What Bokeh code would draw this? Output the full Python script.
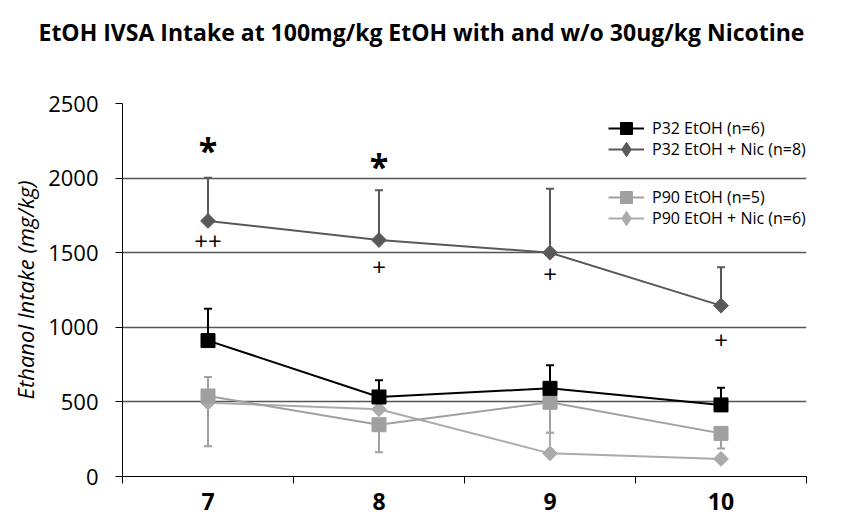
import math
from bokeh.plotting import figure
from bokeh.models import (Range1d, FixedTicker, Whisker, TeeHead, ColumnDataSource,
                          Legend, LegendItem, Title)
from bokeh.core.properties import value
from bokeh.embed import file_html
from bokeh.resources import INLINE

# ---------------- data ----------------
days = [7, 8, 9, 10]
day_labels = ["7", "8", "9", "10"]

p32_etoh = [911, 533, 591, 480]
p32_etoh_up = [213, 112, 154, 115]
p32_etoh_dn = [0, 0, 0, 0]

p32_nic = [1713, 1585, 1500, 1145]
p32_nic_up = [290, 333, 429, 257]
p32_nic_dn = [0, 0, 0, 0]

p90_etoh = [540, 347, 497, 289]
p90_etoh_up = [127, 0, 0, 0]
p90_etoh_dn = [338, 185, 204, 102]

p90_nic = [495, 451, 155, 118]
p90_nic_up = [0, 0, 138, 0]
p90_nic_dn = [0, 0, 0, 0]

y_ticks = [0, 500, 1000, 1500, 2000, 2500]

star_x = [7, 8]
star_y = [2212, 2111]
star_text = ["*", "*"]

plus_x = [7, 8, 9, 10]
plus_y = [1575, 1401, 1354, 911]
plus_text = ["++", "+", "+", "+"]

TITLE = "EtOH IVSA Intake at 100mg/kg EtOH with and w/o 30ug/kg Nicotine"
FONT = "Open Sans"

p = figure(width=841, height=521, output_backend="svg", toolbar_location=None,
           title=None,
           x_range=Range1d(6.5, 10.5), y_range=Range1d(0, 2500),
           min_border_left=122, min_border_right=35, min_border_top=103,
           min_border_bottom=45)
p.outline_line_color = None
p.background_fill_color = "white"

# spacer (closest to the frame), then the real title above it
p.add_layout(Title(text=" ", text_font_size="1px", standoff=48), "above")
p.add_layout(Title(text=TITLE, text_font=FONT, text_font_style="bold",
                   text_font_size="23px", align="left", offset=-84, standoff=10,
                   text_color="black"), "above")

# grid
p.xgrid.grid_line_color = None
p.ygrid.ticker = FixedTicker(ticks=y_ticks)
p.ygrid.grid_line_color = "#555555"
p.ygrid.grid_line_width = 1.3

# x axis
p.xaxis.ticker = FixedTicker(ticks=days, minor_ticks=[6.5, 7.5, 8.5, 9.5, 10.5])
p.xaxis.major_label_overrides = {d: l for d, l in zip(days, day_labels)}
p.xaxis.major_tick_out = 0
p.xaxis.major_tick_in = 0
p.xaxis.minor_tick_out = 7
p.xaxis.minor_tick_in = 0
p.xaxis.minor_tick_line_color = "black"
p.xaxis.axis_line_color = "black"
p.xaxis.major_label_text_font = FONT
p.xaxis.major_label_text_font_style = "bold"
p.xaxis.major_label_text_font_size = "23px"
p.xaxis.major_label_text_color = "black"
p.xaxis.major_label_standoff = 9

# y axis
p.yaxis.ticker = FixedTicker(ticks=y_ticks)
p.yaxis.major_tick_out = 7
p.yaxis.major_tick_in = 0
p.yaxis.minor_tick_out = 0
p.yaxis.minor_tick_in = 0
p.yaxis.major_tick_line_color = "black"
p.yaxis.axis_line_color = "black"
p.yaxis.major_label_text_font = FONT
p.yaxis.major_label_text_font_size = "22px"
p.yaxis.major_label_text_color = "black"
p.yaxis.major_label_standoff = 17
p.yaxis.axis_label = "Ethanol Intake (mg/kg)"
p.yaxis.axis_label_text_font = FONT
p.yaxis.axis_label_text_font_style = "italic"
p.yaxis.axis_label_text_font_size = "22px"
p.yaxis.axis_label_text_color = "black"
p.yaxis.axis_label_standoff = 5


def add_whiskers(mean, up, dn, color):
    ux = [d for d, u in zip(days, up) if u > 0]
    ub = [m for m, u in zip(mean, up) if u > 0]
    ut = [m + u for m, u in zip(mean, up) if u > 0]
    if ux:
        src = ColumnDataSource(dict(x=ux, lower=ub, upper=ut))
        w = Whisker(base="x", lower="lower", upper="upper", source=src,
                    line_color=color, line_width=2,
                    upper_head=TeeHead(size=8, line_color=color, line_width=2),
                    lower_head=None)
        p.add_layout(w)
    dx = [d for d, v in zip(days, dn) if v > 0]
    db = [m for m, v in zip(mean, dn) if v > 0]
    dt = [m - v for m, v in zip(mean, dn) if v > 0]
    if dx:
        src = ColumnDataSource(dict(x=dx, lower=dt, upper=db))
        w = Whisker(base="x", lower="lower", upper="upper", source=src,
                    line_color=color, line_width=2,
                    lower_head=TeeHead(size=8, line_color=color, line_width=2),
                    upper_head=None)
        p.add_layout(w)


C_P32 = "black"
C_P32N = "#595959"
C_P90 = "#a0a0a0"
C_P90N = "#ababab"

add_whiskers(p90_etoh, p90_etoh_up, p90_etoh_dn, C_P90)
add_whiskers(p90_nic, p90_nic_up, p90_nic_dn, C_P90N)
add_whiskers(p32_etoh, p32_etoh_up, p32_etoh_dn, C_P32)
add_whiskers(p32_nic, p32_nic_up, p32_nic_dn, C_P32N)

l90n = p.line(days, p90_nic, line_color=C_P90N, line_width=2)
s90n = p.scatter(days, p90_nic, marker="square", angle=math.pi / 4, size=10.5,
                 fill_color=C_P90N, line_color=C_P90N)
l90 = p.line(days, p90_etoh, line_color=C_P90, line_width=2)
s90 = p.scatter(days, p90_etoh, marker="square", size=14,
                fill_color=C_P90, line_color=C_P90)
l32 = p.line(days, p32_etoh, line_color=C_P32, line_width=2)
s32 = p.scatter(days, p32_etoh, marker="square", size=14,
                fill_color=C_P32, line_color=C_P32)
l32n = p.line(days, p32_nic, line_color=C_P32N, line_width=2)
s32n = p.scatter(days, p32_nic, marker="square", angle=math.pi / 4, size=10.5,
                 fill_color=C_P32N, line_color=C_P32N)

# diamond glyphs used only for the legend icons (legend cannot rotate markers)
d32n = p.scatter(days, p32_nic, marker="diamond", size=16, visible=False,
                 fill_color=C_P32N, line_color=C_P32N)
d90n = p.scatter(days, p90_nic, marker="diamond", size=16, visible=False,
                 fill_color=C_P90N, line_color=C_P90N)

p.text(x=star_x, y=star_y, text=star_text, text_font=value(FONT),
       text_font_style="bold", text_font_size="34px", text_align="center",
       text_baseline="middle", text_color="black", y_offset=4)
p.text(x=plus_x, y=plus_y, text=plus_text, text_font=value(FONT),
       text_font_size="24px", text_align="center",
       text_baseline="middle", text_color="black")


def make_legend(item, loc, gh):
    leg = Legend(items=[item], location=loc, orientation="vertical")
    leg.background_fill_alpha = 0
    leg.border_line_alpha = 0
    leg.inactive_fill_alpha = 0
    leg.padding = 0
    leg.margin = 0
    leg.spacing = 0
    leg.glyph_width = 36
    leg.glyph_height = gh
    leg.label_height = 20
    leg.label_standoff = 8
    leg.label_text_font = FONT
    leg.label_text_font_size = "16px"
    leg.label_text_color = "black"
    p.add_layout(leg)


make_legend(LegendItem(label="P32 EtOH (n=6)", renderers=[l32, s32]), (486, 333), 30)
make_legend(LegendItem(label="P32 EtOH + Nic (n=8)", renderers=[l32n, d32n]), (486, 308), 38)
make_legend(LegendItem(label="P90 EtOH (n=5)", renderers=[l90, s90]), (486, 264), 30)
make_legend(LegendItem(label="P90 EtOH + Nic (n=6)", renderers=[l90n, d90n]), (486, 239), 38)

open("out.html", "w").write(file_html(p, INLINE))
